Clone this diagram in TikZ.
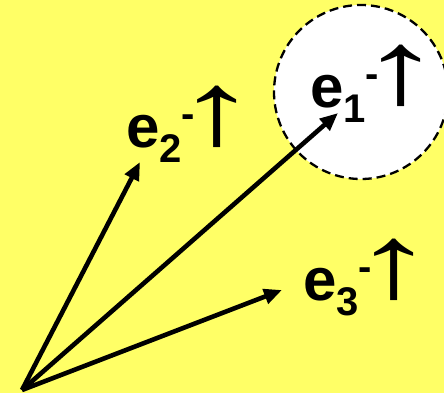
\documentclass[tikz,border=0pt]{standalone}
\usepackage{fontspec}
\setmainfont{Liberation Sans}
\usepackage{graphicx}
\usepackage{xcolor}
\usetikzlibrary{arrows.meta}
\definecolor{padyellow}{RGB}{255,255,102}
\newcommand\spinlbl[1]{%
  {\bfseries\fontsize{60}{60}\selectfont e}%
  \raisebox{-15pt}{\bfseries\fontsize{40}{40}\selectfont #1}%
  \raisebox{20pt}{\bfseries\fontsize{40}{40}\selectfont -}%
  \hspace{-20pt}\raisebox{3pt}{\fontsize{104}{104}\selectfont\scalebox{1.6}[1]{↑}}}

\begin{document}
\begin{tikzpicture}[x=1pt, y=-1pt,
  vec/.style={-{Triangle[length=18pt, width=15pt]}, line width=4.6pt},
  spin/.style={anchor=base west, inner sep=0pt},
  halo/.style={draw, line width=2.3pt, dash pattern=on 9pt off 5pt, fill=white},
]
  % ---- Background ----
  \fill[padyellow] (0,0) rectangle (444,393);
  \useasboundingbox (0,0) rectangle (444,393);
  \clip (0,0) rectangle (444,393);

  % ---- Dashed circle round e1 ----
  \draw[halo] (361,92) circle (87);

  % ---- Origin and tips ----
  \coordinate (o) at (22,390);
  \coordinate (t1) at (338,113);
  \coordinate (t2) at (140,162);
  \coordinate (t3) at (282,290);

  % ---- Labels ----
  \node[spin] (e1) at (310,107) {\spinlbl{1}};
  \node[spin] (e2) at (126,147) {\spinlbl{2}};
  \node[spin] (e3) at (303,300) {\spinlbl{3}};

  % ---- Vectors ----
  \draw[vec] (o) -- (t2);
  \draw[vec] (o) -- (t1);
  \draw[vec] (o) -- (t3);
\end{tikzpicture}
\end{document}
